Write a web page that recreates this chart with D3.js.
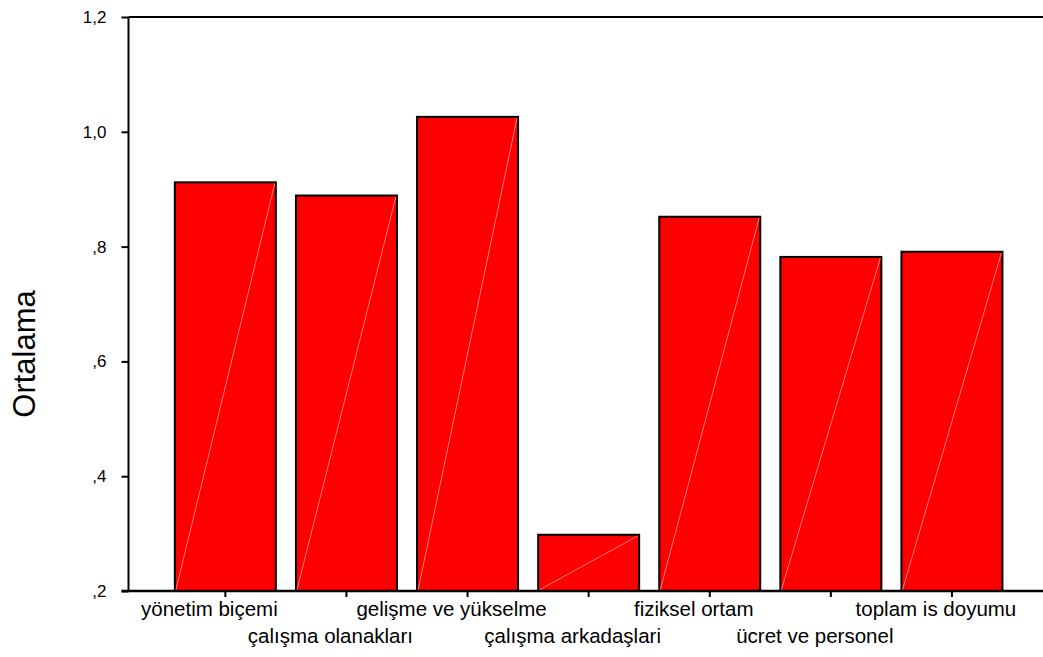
<!DOCTYPE html>
<html>
<head>
<meta charset="utf-8">
<script src="https://cdn.jsdelivr.net/npm/d3@7"></script>
<style>
html,body{margin:0;padding:0;background:#fff;}
svg{display:block;}
text{font-family:"Liberation Sans",Arial,sans-serif;fill:#000;}
</style>
</head>
<body>
<script>
const categories = ["yönetim biçemi","çalışma olanakları","gelişme ve yükselme","çalışma arkadaşlari","fiziksel ortam","ücret ve personel","toplam is doyumu"];
const values = [0.912, 0.889, 1.026, 0.298, 0.852, 0.782, 0.791];
const yTicks = [0.2, 0.4, 0.6, 0.8, 1.0, 1.2];
const yTickLabels = [",2", ",4", ",6", ",8", "1,0", "1,2"];
const yTitle = "Ortalama";

const W = 1043, H = 657;
const pLeft = 128.5, pTop = 17, pBottom = 591, pRight = 1049.5;

const svg = d3.select("body").append("svg").attr("width", W).attr("height", H);

const x = d3.scaleBand().domain(categories).range([164.8, 1012.5]).paddingInner(0.166).paddingOuter(0.083);
const y = d3.scaleLinear().domain([0.2, 1.2]).range([pBottom, pTop]);

// bars
const g = svg.append("g");
g.selectAll("rect.bar").data(values).join("rect")
  .attr("class","bar")
  .attr("x", (d,i)=>x(categories[i]))
  .attr("y", d=>y(d))
  .attr("width", x.bandwidth())
  .attr("height", d=>y(0.2)-y(d))
  .attr("fill","#ff0000")
  .attr("stroke","#000").attr("stroke-width",2);

// diagonal artifact lines
g.selectAll("line.diag").data(values).join("line")
  .attr("class","diag")
  .attr("x1",(d,i)=>x(categories[i])+1)
  .attr("y1", y(0.2)-1)
  .attr("x2",(d,i)=>x(categories[i])+x.bandwidth()-1)
  .attr("y2", d=>y(d)+1)
  .attr("stroke","#ff9a9a").attr("stroke-width",0.8);

// top border
svg.append("line").attr("x1",pLeft).attr("x2",pRight).attr("y1",pTop).attr("y2",pTop)
  .attr("stroke","#000").attr("stroke-width",2);

// y axis
const yAxis = d3.axisLeft(y).tickValues(yTicks).tickFormat((d,i)=>yTickLabels[i]).tickSize(7).tickPadding(15);
const ya = svg.append("g").attr("transform",`translate(${pLeft},0)`).call(yAxis);
ya.select(".domain").attr("stroke-width",2).attr("d",`M0,${pTop}V${pBottom}`);
ya.selectAll(".tick line").attr("stroke-width",2);
ya.selectAll(".tick text").style("font-size","17px").style("font-family","'Liberation Sans',Arial,sans-serif").attr("fill","#000");

// x axis
const xAxis = d3.axisBottom(x).tickSize(6).tickFormat("");
const xa = svg.append("g").attr("transform",`translate(0,${pBottom})`).call(xAxis);
xa.select(".domain").attr("stroke-width",2.5).attr("d",`M${pLeft-7},0H${pRight}`);
xa.selectAll(".tick line").attr("stroke-width",2);

// x labels staggered
svg.append("g").selectAll("text.xl").data(categories).join("text")
  .attr("class","xl")
  .attr("x", d=>x(d)+x.bandwidth()/2)
  .attr("dx", -16)
  .attr("y", (d,i)=> i%2===0 ? 616 : 643)
  .attr("text-anchor","middle")
  .style("font-size","20.5px")
  .text(d=>d);

// y title
svg.append("text")
  .attr("transform",`translate(35,${(pTop+pBottom)/2+50}) rotate(-90)`)
  .attr("text-anchor","middle")
  .style("font-size","31px")
  .text(yTitle);
</script>
</body>
</html>
